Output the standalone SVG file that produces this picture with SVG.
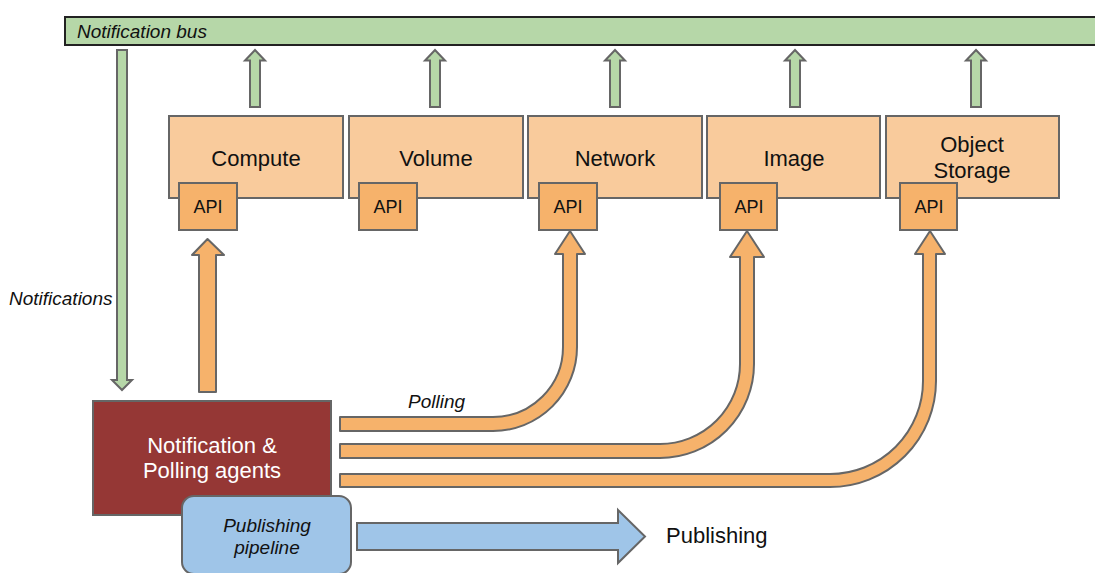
<svg xmlns="http://www.w3.org/2000/svg" width="1095" height="573" viewBox="0 0 1095 573">
  <style>
    .lbl { font-family: "Liberation Sans", Arial, sans-serif; fill: #111; }
    .it { font-style: italic; }
    .svc { fill: #f9cb9c; stroke: #666; stroke-width: 2; }
    .api { fill: #f6b26b; stroke: #666; stroke-width: 2; }
    .grn { fill: #b6d7a8; stroke: #666; stroke-width: 2; }
    .org { fill: #f6b26b; stroke: #666; stroke-width: 2; stroke-linejoin: round; }
    .blu { fill: #9fc5e8; stroke: #666; stroke-width: 2; }
  </style>
  <defs>
    <!-- upward block arrow, tip at origin -->
    <polygon id="upArrow" points="0,0 10,10.5 5,10.5 5,57 -5,57 -5,10.5 -10,10.5" class="grn"/>
  </defs>

  <rect width="1095" height="573" fill="#fff"/>

  <!-- bus -->
  <g id="notification-bus">
    <rect x="65" y="17" width="1040" height="28" fill="#b6d7a8" stroke="#222" stroke-width="2"/>
    <text x="77" y="38" class="lbl it" font-size="19">Notification bus</text>
  </g>

  <!-- services -->
  <g id="compute">
    <rect x="169" y="116" width="174" height="82" class="svc"/>
    <text x="256" y="166" class="lbl" font-size="22" text-anchor="middle">Compute</text>
    <rect x="179" y="183" width="58" height="47" class="api"/>
    <text x="208" y="213" class="lbl" font-size="18" text-anchor="middle">API</text>
  </g>
  <g id="volume">
    <rect x="349" y="116" width="174" height="82" class="svc"/>
    <text x="436" y="166" class="lbl" font-size="22" text-anchor="middle">Volume</text>
    <rect x="359" y="183" width="58" height="47" class="api"/>
    <text x="388" y="213" class="lbl" font-size="18" text-anchor="middle">API</text>
  </g>
  <g id="network">
    <rect x="528" y="116" width="174" height="82" class="svc"/>
    <text x="615" y="166" class="lbl" font-size="22" text-anchor="middle">Network</text>
    <rect x="539" y="183" width="58" height="47" class="api"/>
    <text x="568" y="213" class="lbl" font-size="18" text-anchor="middle">API</text>
  </g>
  <g id="image">
    <rect x="707" y="116" width="173" height="82" class="svc"/>
    <text x="794" y="166" class="lbl" font-size="22" text-anchor="middle">Image</text>
    <rect x="720" y="183" width="57" height="47" class="api"/>
    <text x="749" y="213" class="lbl" font-size="18" text-anchor="middle">API</text>
  </g>
  <g id="object-storage">
    <rect x="886" y="116" width="173" height="82" class="svc"/>
    <text x="972" y="152" class="lbl" font-size="22" text-anchor="middle">Object</text>
    <text x="972" y="178" class="lbl" font-size="22" text-anchor="middle">Storage</text>
    <rect x="900" y="183" width="57" height="47" class="api"/>
    <text x="929" y="213" class="lbl" font-size="18" text-anchor="middle">API</text>
  </g>

  <!-- agents -->
  <g id="agents">
    <rect x="93" y="401" width="238" height="114" fill="#953735" stroke="#666" stroke-width="2"/>
    <text x="212" y="453" class="lbl" font-size="22" text-anchor="middle" style="fill:#fff">Notification &amp;</text>
    <text x="212" y="478" class="lbl" font-size="22" text-anchor="middle" style="fill:#fff">Polling agents</text>
  </g>

  <g id="publishing-pipeline">
    <rect x="182" y="496" width="169" height="78" rx="12" class="blu"/>
    <text x="267" y="532" class="lbl it" font-size="19" text-anchor="middle">Publishing</text>
    <text x="267" y="554" class="lbl it" font-size="19" text-anchor="middle">pipeline</text>
  </g>

  <g id="publishing">
    <text x="666" y="543" class="lbl" font-size="22">Publishing</text>
  </g>

  <!-- connectors -->
  <g id="connectors">
    <!-- service notifications up to the bus -->
    <use href="#upArrow" x="255" y="50"/>
    <use href="#upArrow" x="435" y="50"/>
    <use href="#upArrow" x="615" y="50"/>
    <use href="#upArrow" x="795" y="50"/>
    <use href="#upArrow" x="976" y="50"/>

    <!-- bus down to agents -->
    <polygon points="117,50 127,50 127,380 132,380 122,390 112,380 117,380" class="grn"/>
    <text x="9" y="305" class="lbl it" font-size="19">Notifications</text>

    <!-- polling -->
    <polygon points="199,392 199,255 192,255 207.5,239 224,255 216,255 216,392" class="org"/>
    <path d="M340,417 H493 A70,70 0 0 0 563,347 V254 H555 L570,231 L585,254 H577 V347 A84,84 0 0 1 493,431 H340 Z" class="org"/>
    <path d="M340,444 H660 A80,80 0 0 0 740,364 V257 H730 L747,231 L764,257 H754 V364 A94,94 0 0 1 660,458 H340 Z" class="org"/>
    <path d="M340,474 H830 A93,93 0 0 0 923,381 V254 H915 L930,231 L945,254 H936 V381 A106,106 0 0 1 830,487 H340 Z" class="org"/>
    <text x="408" y="408" class="lbl it" font-size="19">Polling</text>

    <!-- publishing -->
    <path d="M357,523 H618 V510 L645,536.5 L618,563 V550 H357 Z" class="blu"/>
  </g>
</svg>
